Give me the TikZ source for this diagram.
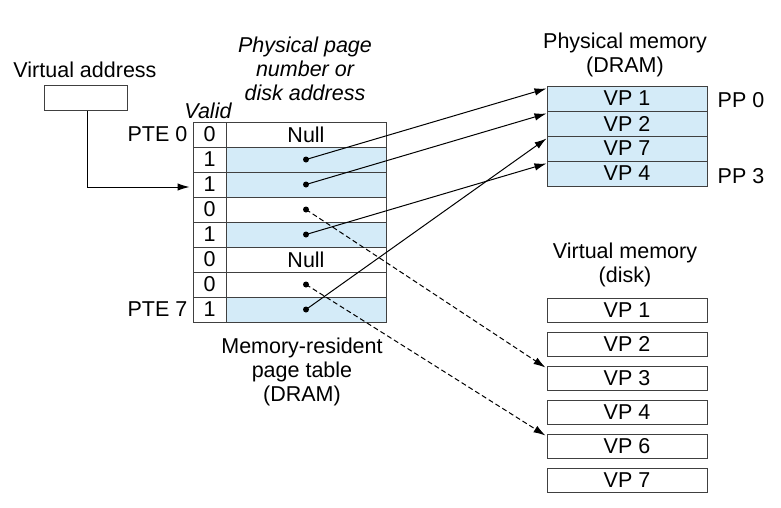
\documentclass[tikz,border=0pt]{standalone}
\usepackage{fontspec}
\setmainfont{Liberation Sans}
\usetikzlibrary{arrows.meta, calc, positioning}
\definecolor{pteblue}{RGB}{212,235,248}

\begin{document}
\begin{tikzpicture}[x=1pt, y=-1pt, font=\fontsize{21.5}{24}\selectfont,
  cell/.style={draw=black!75, line width=1pt, inner sep=0pt, minimum height=25pt},
  ptr/.style={line width=1pt, -{Latex[length=12pt,width=7.5pt]}},
  diskptr/.style={ptr, dash pattern=on 5pt off 3pt}]
\useasboundingbox (0,0) rectangle (781,507);

% virtual address
\node (vatitle) at (85,70) {Virtual address};
\node[cell, minimum width=83pt] (va) at (85.5,97.5) {};

% page table
\node[align=center, font=\fontsize{21.5}{24}\selectfont\itshape] (ppnhead) at (305,69) {Physical page\\number or\\disk address};
\node[font=\fontsize{21.5}{24}\selectfont\itshape] (validhead) at (208,111) {Valid};
\foreach \v/\f/\t [count=\i from 0] in {0/white/Null, 1/pteblue/, 1/pteblue/, 0/white/, 1/pteblue/, 0/white/Null, 0/white/, 1/pteblue/}{
  \node[cell, minimum width=33pt, fill=white] (v\i) at (209.5,{134.5+25*\i}) {\v};
  \node[cell, minimum width=160pt, fill=\f] (p\i) at (306,{134.5+25*\i}) {\t};
}
\node[anchor=east, inner sep=5pt] (pte0) at (v0.west) {PTE 0};
\node[anchor=east, inner sep=5pt] (pte7) at (v7.west) {PTE 7};
\node[align=center] (ptlabel) at (302,372) {Memory-resident\\page table\\(DRAM)};

% physical memory
\node[align=center] (pmtitle) at (625,55) {Physical memory\\(DRAM)};
\foreach \t [count=\i] in {VP 1, VP 2, VP 7, VP 4}
  \node[cell, minimum width=160pt, fill=pteblue] (pm\i) at (627,{73.5+25*\i}) {\t};
\node[anchor=west, inner sep=2pt] (pp0) at ([xshift=8pt, yshift=-2pt]pm1.east) {PP 0};
\node[anchor=west, inner sep=2pt] (pp3) at ([xshift=8pt, yshift=-3pt]pm4.east) {PP 3};

% virtual memory
\node[align=center] (vmtitle) at (625,265) {Virtual memory\\(disk)};
\foreach \t [count=\i] in {VP 1, VP 2, VP 3, VP 4, VP 6, VP 7}
  \node[cell, minimum width=160pt, minimum height=24pt] (d\i) at (627,{276+34*\i}) {\t};

% pointers
\draw[ptr] ([xshift=1.5pt]va.south) |- ([xshift=-3pt, yshift=-2.5pt]v2.west);
\draw[ptr] (p1.center) -- ([yshift=-3pt]pm1.north west);
\draw[ptr] (p2.center) -- ([yshift=-3pt]pm2.north west);
\draw[ptr] (p4.center) -- ([yshift=-3pt]pm4.north west);
\draw[ptr] (p7.center) -- ([yshift=-3pt]pm3.north west);
\draw[diskptr] (p3.center) -- ([xshift=-1pt, yshift=-2pt]d3.north west);
\draw[diskptr] (p6.center) -- ([xshift=-1pt, yshift=-2pt]d5.north west);
\foreach \i in {1,2,3,4,6,7}
  \fill (p\i.center) circle (3pt);
\end{tikzpicture}
\end{document}
